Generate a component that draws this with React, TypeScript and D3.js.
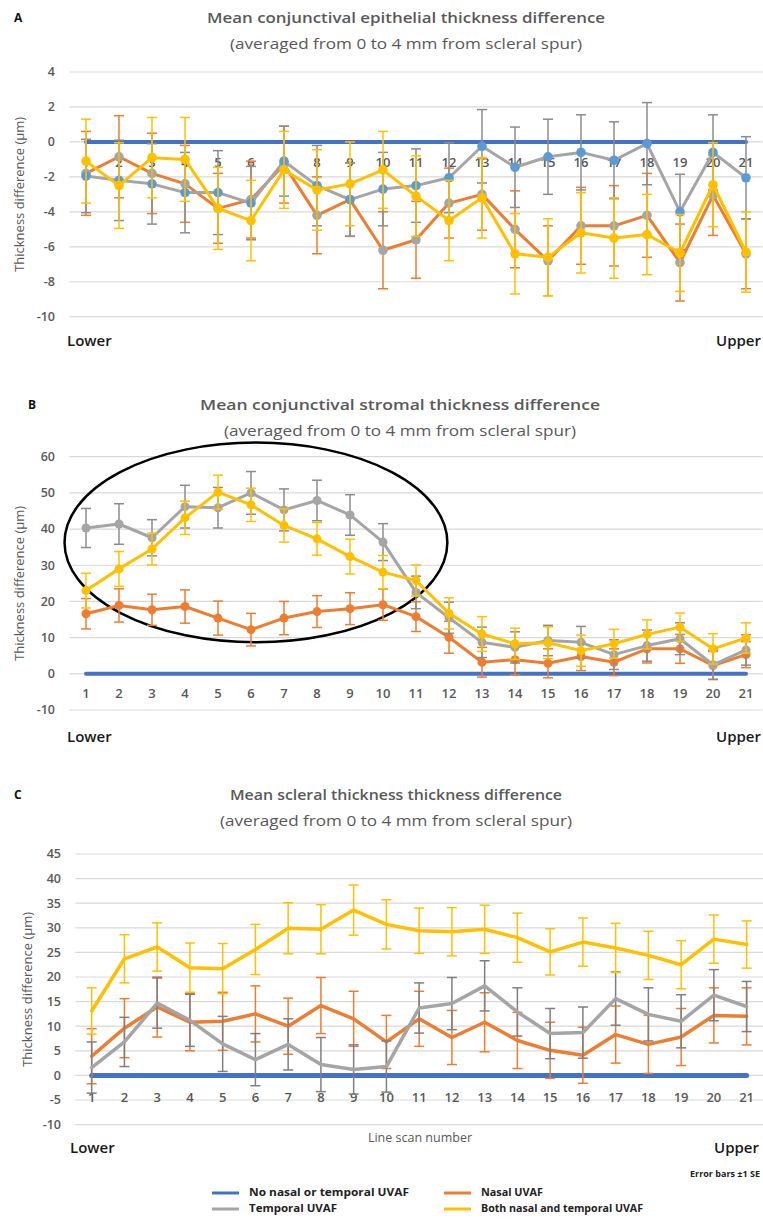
import React, { useEffect, useRef } from 'react'
import * as d3 from 'd3'

// line scan numbers, lower -> upper
const scans = ['1', '2', '3', '4', '5', '6', '7', '8', '9', '10', '11', '12', '13', '14', '15', '16', '17', '18', '19', '20', '21']
const zeros = [0, 0, 0, 0, 0, 0, 0, 0, 0, 0, 0, 0, 0, 0, 0, 0, 0, 0, 0, 0, 0]

// A - conjunctival epithelium
const epiTemporal = [-1.95, -2.2, -2.4, -2.9, -2.9, -3.5, -1.1, -2.5, -3.3, -2.7, -2.5, -2.05, -0.25, -1.45, -0.85, -0.6, -1.05, -0.1, -4.0, -0.6, -2.05]
const epiTemporalSE = [2.1, 2.3, 2.3, 2.3, 2.4, 2.1, 2.0, 2.3, 2.1, 2.1, 2.1, 2.0, 2.1, 2.3, 2.15, 2.15, 2.2, 2.35, 2.15, 2.15, 2.35]
const epiNasal = [-1.8, -0.85, -1.8, -2.4, -3.8, -3.3, -1.3, -4.2, -3.3, -6.2, -5.6, -3.5, -3.0, -5.0, -6.8, -4.8, -4.8, -4.2, -6.9, -3.05, -6.4]
const epiNasalSE = [2.4, 2.35, 2.3, 2.2, 2.0, 2.2, 2.2, 2.2, 2.1, 2.2, 2.2, 2.0, 2.05, 2.2, 2.0, 2.2, 2.3, 2.4, 2.2, 2.3, 2.0]
const epiBoth = [-1.1, -2.5, -0.9, -1.0, -3.8, -4.5, -1.6, -2.75, -2.4, -1.6, -3.1, -4.5, -3.2, -6.4, -6.6, -5.2, -5.5, -5.3, -6.35, -2.45, -6.3]
const epiBothSE = [2.4, 2.45, 2.3, 2.4, 2.35, 2.3, 2.2, 2.3, 2.4, 2.2, 2.3, 2.3, 2.3, 2.3, 2.2, 2.3, 2.3, 2.3, 2.2, 2.4, 2.3]
const epiTicks = [-10, -8, -6, -4, -2, 0, 2, 4]

// B - conjunctival stroma
const strTemporal = [40.3, 41.4, 37.6, 46.2, 45.9, 50.0, 45.3, 47.9, 43.9, 36.4, 22.5, 15.5, 8.7, 7.3, 9.2, 8.7, 5.3, 7.8, 9.7, 2.5, 6.6]
const strTemporalSE = [5.4, 5.6, 5.0, 5.9, 5.6, 5.9, 5.8, 5.6, 5.6, 5.1, 4.5, 4.3, 4.2, 4.3, 4.2, 4.4, 4.1, 4.3, 4.4, 4.0, 4.2]
const strNasal = [16.6, 18.9, 17.7, 18.6, 15.4, 12.2, 15.4, 17.2, 18.0, 19.1, 15.8, 10.1, 3.2, 3.9, 2.9, 4.8, 3.2, 6.9, 6.9, 2.3, 5.3]
const strNasalSE = [4.2, 4.6, 4.3, 4.6, 4.7, 4.5, 4.6, 4.4, 4.4, 4.3, 4.1, 4.4, 4.1, 4.2, 4.0, 3.9, 3.7, 3.9, 4.0, 3.9, 3.6]
const strBoth = [23.0, 29.0, 34.5, 43.1, 50.2, 46.7, 41.0, 37.3, 32.4, 28.1, 25.8, 16.7, 11.0, 8.3, 8.6, 6.4, 8.3, 10.9, 12.9, 6.9, 9.9]
const strBothSE = [4.8, 4.8, 4.4, 4.6, 4.7, 4.6, 4.6, 4.5, 4.8, 4.6, 4.3, 4.3, 4.8, 4.3, 4.4, 4.3, 4.0, 4.0, 3.9, 4.2, 4.2]
const strTicks = [-10, 0, 10, 20, 30, 40, 50, 60]

// C - sclera
const sclTemporal = [1.6, 6.8, 14.7, 11.2, 6.4, 3.2, 6.3, 2.2, 1.2, 1.8, 13.7, 14.6, 18.2, 12.9, 8.5, 8.7, 15.6, 12.4, 11.0, 16.3, 14.0]
const sclTemporalSE = [5.2, 5.0, 5.1, 5.3, 5.6, 5.3, 5.2, 5.5, 5.0, 5.2, 5.1, 5.3, 5.1, 4.9, 5.1, 5.2, 5.4, 5.4, 5.4, 5.2, 5.1]
const sclNasal = [3.9, 9.6, 13.9, 10.8, 11.0, 12.5, 10.0, 14.2, 11.5, 6.8, 11.5, 7.7, 10.8, 7.1, 5.1, 4.1, 8.3, 6.3, 7.8, 12.2, 12.0]
const sclNasalSE = [5.6, 6.0, 6.1, 5.8, 5.9, 5.7, 5.7, 5.7, 5.6, 5.4, 5.6, 5.5, 6.0, 5.7, 5.7, 5.7, 5.8, 5.9, 5.8, 5.6, 5.8]
const sclBoth = [13.1, 23.7, 26.1, 21.9, 21.7, 25.6, 29.9, 29.7, 33.6, 30.7, 29.4, 29.2, 29.7, 28.0, 25.1, 27.1, 25.9, 24.4, 22.5, 27.7, 26.6]
const sclBothSE = [4.7, 4.9, 4.9, 5.0, 5.1, 5.1, 5.2, 5.0, 5.1, 5.0, 4.6, 4.9, 4.9, 5.0, 4.7, 4.9, 5.0, 4.9, 4.9, 4.9, 4.8]
const sclTicks = [-10, -5, 0, 5, 10, 15, 20, 25, 30, 35, 40, 45]

const legendNames = ['No nasal or temporal UVAF', 'Nasal UVAF', 'Temporal UVAF', 'Both nasal and temporal UVAF']

const BLUE = '#4472c4'
const ORANGE = '#ed7d31'
const GRAY = '#a5a5a5'
const YELLOW = '#ffc000'
const TXT = '#595959'
const FONT = "'Open Sans', 'Noto Sans', sans-serif"

const App = () => {
  const ref = useRef<SVGSVGElement>(null)

  useEffect(() => {
    document.body.style.margin = '0'
    const svg = d3.select(ref.current)
    svg.selectAll('*').remove()

    const drawPanel = (opt: any) => {
      const g = svg.append('g')
      const x = d3.scaleBand().domain(scans).range(opt.xRange)
      const cx = (d: string) => (x(d) as number) + x.bandwidth() / 2
      const y = d3.scaleLinear().domain(opt.yDomain).range(opt.yRange)

      // letter + titles
      g.append('text').attr('x', opt.letterX).attr('y', opt.titleY).attr('dy', '0.35em')
        .attr('font-family', FONT).attr('font-size', 12).attr('font-weight', 700).attr('fill', '#111')
        .text(opt.letter)
      g.append('text').attr('x', opt.titleX).attr('y', opt.titleY).attr('dy', '0.35em')
        .attr('text-anchor', 'middle').attr('font-family', FONT).attr('font-size', 15).attr('font-weight', 600)
        .attr('fill', TXT).attr('textLength', opt.titleW).attr('lengthAdjust', 'spacingAndGlyphs')
        .text(opt.title)
      g.append('text').attr('x', opt.titleX).attr('y', opt.titleY + 26).attr('dy', '0.35em')
        .attr('text-anchor', 'middle').attr('font-family', FONT).attr('font-size', 15)
        .attr('fill', TXT).attr('textLength', 352).attr('lengthAdjust', 'spacingAndGlyphs')
        .text('(averaged from 0 to 4 mm from scleral spur)')

      // grid
      g.selectAll('.grid').data(opt.ticks).enter().append('line')
        .attr('x1', opt.xRange[0]).attr('x2', opt.xRange[1])
        .attr('y1', (d: number) => y(d)).attr('y2', (d: number) => y(d))
        .attr('stroke', '#d9d9d9').attr('stroke-width', 1.2)
      g.selectAll('.ytick').data(opt.ticks).enter().append('text')
        .attr('x', opt.tickX).attr('y', (d: number) => y(d)).attr('dy', '0.35em')
        .attr('text-anchor', 'end').attr('font-family', FONT).attr('font-size', 12.5).attr('font-weight', 600)
        .attr('fill', TXT).text((d: number) => d)

      // y axis title
      const my = (opt.yRange[0] + opt.yRange[1]) / 2
      g.append('text').attr('transform', `translate(${opt.yTitleX},${my}) rotate(-90)`)
        .attr('dy', '0.35em').attr('text-anchor', 'middle').attr('font-family', FONT).attr('font-size', 13)
        .attr('fill', TXT).text('Thickness difference (µm)')

      // category labels
      g.selectAll('.xtick').data(scans).enter().append('text')
        .attr('x', (d: string) => cx(d)).attr('y', opt.catY).attr('dy', '0.35em')
        .attr('text-anchor', 'middle').attr('font-family', FONT).attr('font-size', 13).attr('font-weight', 600)
        .attr('fill', TXT).text((d: string) => d)

      g.append('text').attr('x', opt.lowerX).attr('y', opt.lowerY).attr('dy', '0.35em')
        .attr('font-family', FONT).attr('font-size', 15).attr('font-weight', 600).attr('fill', '#1a1a1a').text('Lower')
      g.append('text').attr('x', opt.upperX).attr('y', opt.lowerY).attr('dy', '0.35em')
        .attr('font-family', FONT).attr('font-size', 15).attr('font-weight', 600).attr('fill', '#1a1a1a').text('Upper')

      if (opt.ellipse) {
        const e = opt.ellipse
        g.append('ellipse')
          .attr('cx', cx(e.cat) + e.shift * x.bandwidth())
          .attr('cy', y(e.mid))
          .attr('rx', e.bands * x.bandwidth())
          .attr('ry', y(e.low) - y(e.mid))
          .attr('fill', 'none').attr('stroke', '#000').attr('stroke-width', 2.5)
      }

      // series
      opt.series.forEach((s: any) => {
        const line = d3.line<number>().x((_, i) => cx(scans[i])).y(d => y(d))
        if (s.se) {
          const eg = g.append('g').attr('stroke', s.errColor).attr('stroke-width', 1.5)
          s.values.forEach((v: number, i: number) => {
            const px = cx(scans[i])
            const top = y(v + s.se[i]), bot = y(v - s.se[i])
            eg.append('line').attr('x1', px).attr('x2', px).attr('y1', top).attr('y2', bot)
            eg.append('line').attr('x1', px - 5).attr('x2', px + 5).attr('y1', top).attr('y2', top)
            eg.append('line').attr('x1', px - 5).attr('x2', px + 5).attr('y1', bot).attr('y2', bot)
          })
        }
        g.append('path').datum(s.values).attr('d', line).attr('fill', 'none')
          .attr('stroke', s.color).attr('stroke-width', s.width).attr('stroke-linecap', 'round')
          .attr('stroke-linejoin', 'round')
        if (s.marker) {
          g.selectAll(null).data(s.values).enter().append('circle')
            .attr('cx', (_: number, i: number) => cx(scans[i])).attr('cy', (d: number) => y(d))
            .attr('r', opt.markerR).attr('fill', s.marker)
        }
      })
    }

    drawPanel({
      letter: 'A', letterX: 14, titleX: 406, titleY: 18, titleW: 398,
      title: 'Mean conjunctival epithelial thickness difference',
      xRange: [69.5, 762.5], yDomain: [-10, 4], yRange: [316.7, 72], ticks: epiTicks,
      tickX: 55, yTitleX: 19, catY: 162, lowerX: 67, upperX: 716, lowerY: 341, markerR: 4.8,
      series: [
        { values: zeros, color: BLUE, width: 4 },
        { values: epiNasal, se: epiNasalSE, color: ORANGE, errColor: ORANGE, width: 3, marker: GRAY },
        { values: epiTemporal, se: epiTemporalSE, color: GRAY, errColor: '#8c8c8c', width: 3, marker: '#5b9bd5' },
        { values: epiBoth, se: epiBothSE, color: YELLOW, errColor: YELLOW, width: 3, marker: YELLOW },
      ],
    })

    drawPanel({
      letter: 'B', letterX: 28, titleX: 400, titleY: 405, titleW: 400,
      title: 'Mean conjunctival stromal thickness difference',
      xRange: [69.5, 762.5], yDomain: [-10, 60], yRange: [710, 456.7], ticks: strTicks,
      tickX: 55, yTitleX: 19, catY: 693, lowerX: 67, upperX: 716, lowerY: 737, markerR: 4.5,
      ellipse: { cat: '6', shift: 0.15, mid: 36.3, low: 8.7, bands: 5.8 },
      series: [
        { values: zeros, color: BLUE, width: 4 },
        { values: strNasal, se: strNasalSE, color: ORANGE, errColor: ORANGE, width: 3, marker: ORANGE },
        { values: strTemporal, se: strTemporalSE, color: GRAY, errColor: '#8c8c8c', width: 3, marker: GRAY },
        { values: strBoth, se: strBothSE, color: YELLOW, errColor: YELLOW, width: 3, marker: YELLOW },
      ],
    })

    drawPanel({
      letter: 'C', letterX: 14, titleX: 396, titleY: 795, titleW: 332,
      title: 'Mean scleral thickness thickness difference',
      xRange: [75.3, 763], yDomain: [-10, 45], yRange: [1124.6, 854], ticks: sclTicks,
      tickX: 61, yTitleX: 27, catY: 1097, lowerX: 70, upperX: 714, lowerY: 1148, markerR: 0,
      series: [
        { values: zeros, color: BLUE, width: 5 },
        { values: sclNasal, se: sclNasalSE, color: ORANGE, errColor: ORANGE, width: 3.5 },
        { values: sclTemporal, se: sclTemporalSE, color: GRAY, errColor: '#7f7f7f', width: 3.5 },
        { values: sclBoth, se: sclBothSE, color: YELLOW, errColor: YELLOW, width: 3.5 },
      ],
    })

    svg.append('text').attr('x', 420).attr('y', 1138).attr('dy', '0.35em').attr('text-anchor', 'middle')
      .attr('font-family', FONT).attr('font-size', 12.5).attr('fill', TXT).text('Line scan number')
    svg.append('text').attr('x', 690).attr('y', 1174).attr('dy', '0.35em')
      .attr('font-family', FONT).attr('font-size', 9.5).attr('font-weight', 700).attr('fill', '#222')
      .attr('textLength', 70).attr('lengthAdjust', 'spacingAndGlyphs').text('Error bars ±1 SE')

    // legend
    const legColors = [BLUE, ORANGE, GRAY, YELLOW]
    const legX = [212, 444, 212, 444]
    const legY = [1192, 1192, 1208, 1208]
    const legW = [160, 62, 88, 162]
    legendNames.forEach((name, i) => {
      svg.append('line').attr('x1', legX[i]).attr('x2', legX[i] + 27).attr('y1', legY[i] + 1).attr('y2', legY[i] + 1)
        .attr('stroke', legColors[i]).attr('stroke-width', 3)
      svg.append('text').attr('x', legX[i] + 37).attr('y', legY[i]).attr('dy', '0.35em')
        .attr('font-family', FONT).attr('font-size', 10).attr('font-weight', 700).attr('fill', '#222')
        .attr('textLength', legW[i]).attr('lengthAdjust', 'spacingAndGlyphs').text(name)
    })
  }, [])

  return <svg ref={ref} width={763} height={1219} style={{ display: 'block', background: '#fff' }} />
}

export default App
